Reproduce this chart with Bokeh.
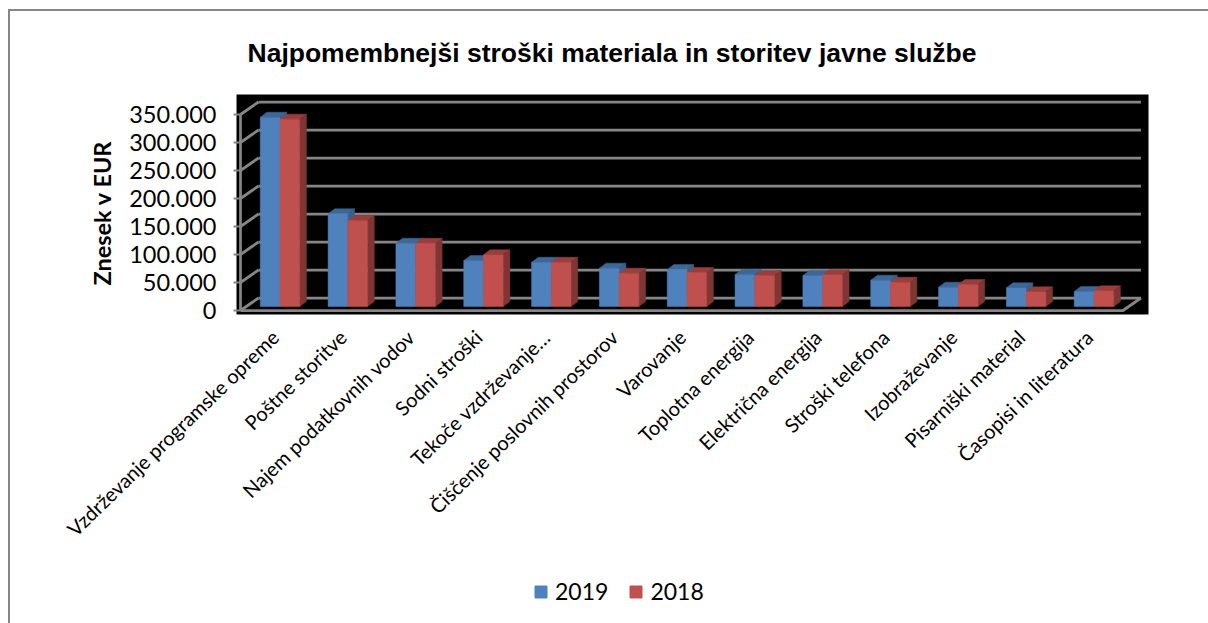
from bokeh.plotting import figure
from bokeh.layouts import column
from bokeh.models import FixedTicker, Legend, LegendItem, Title
from bokeh.embed import file_html
from bokeh.resources import INLINE

title = "Najpomembnejši stroški materiala in storitev javne službe"
y_title = "Znesek v EUR"
categories = ["Vzdrževanje programske opreme", "Poštne storitve", "Najem podatkovnih vodov",
              "Sodni stroški", "Tekoče vzdrževanje…", "Čiščenje poslovnih prostorov", "Varovanje",
              "Toplotna energija", "Električna energija", "Stroški telefona", "Izobraževanje",
              "Pisarniški material", "Časopisi in literatura"]
series_names = ["2019", "2018"]
v2019 = [338000, 165500, 113000, 82000, 79000, 68400, 66000, 57100, 55400, 47000, 34500, 33300, 26800]
v2018 = [334500, 153500, 113000, 92300, 79000, 59500, 60700, 55400, 56600, 43400, 39300, 26200, 28000]
y_ticks = [0, 50000, 100000, 150000, 200000, 250000, 300000, 350000]
y_tick_labels = ["0", "50.000", "100.000", "150.000", "200.000", "250.000", "300.000", "350.000"]

# page geometry (window pixels)
FRAME_L, FRAME_R, FRAME_T, FRAME_B = 236, 1148, 94, 314
HOST_X, HOST_Y = 8, 9   # outer edge of the chart's border
BORDER = 2
W, H_MAIN, H_LEG = 1198, 564, 48
STEP_PX = 67.83
CENTER0_PX = 279.5
Y0_PX = 310.0
KY = 196 / 350000
def xpx(px): return (px - CENTER0_PX) / STEP_PX
def wx(px): return px / STEP_PX
def wy(px): return px / KY

inner_x = HOST_X + BORDER
inner_y = HOST_Y + BORDER
p = figure(width=W, height=H_MAIN, output_backend="svg", toolbar_location=None,
           x_range=(xpx(FRAME_L), xpx(FRAME_R)),
           y_range=(wy(Y0_PX - FRAME_B), wy(Y0_PX - FRAME_T)),
           frame_width=FRAME_R - FRAME_L, frame_height=FRAME_B - FRAME_T,
           min_border_left=FRAME_L - inner_x, min_border_right=inner_x + W - FRAME_R,
           min_border_top=FRAME_T - inner_y, min_border_bottom=inner_y + H_MAIN - FRAME_B,
           background_fill_color="black", border_fill_color="white", outline_line_color=None)

p.title.text = title
p.title.text_font = "Liberation Sans"
p.title.text_font_size = "26.5px"
p.title.text_font_style = "bold"
p.title.text_color = "#000000"
p.title.align = "left"
p.title.offset = 11
p.title.vertical_align = "top"
p.title.standoff = 50

p.xgrid.visible = False
p.ygrid.visible = False

GRID = "#868686"
GW = 2.75
FLOOR_DX, FLOOR_DY = wx(18), wy(12.5)
AXIS_X = xpx(240)
WALL_END = xpx(1122.5)

p.multi_line([[AXIS_X + FLOOR_DX, WALL_END + FLOOR_DX] for _ in y_ticks],
             [[t + FLOOR_DY, t + FLOOR_DY] for t in y_ticks], line_color=GRID, line_width=GW)
p.multi_line([[AXIS_X, AXIS_X + FLOOR_DX] for _ in y_ticks], [[t, t + FLOOR_DY] for t in y_ticks],
             line_color=GRID, line_width=GW)
p.line([AXIS_X, AXIS_X], [y_ticks[0], y_ticks[-1]], line_color=GRID, line_width=GW)
p.line([AXIS_X, WALL_END, WALL_END + FLOOR_DX], [0, 0, FLOOR_DY], line_color=GRID, line_width=GW)

BAR_W = wx(19.75)
BAR_DX, BAR_DY = wx(6.7), wy(5)
BASE = wy(4)
BLUE, RED = "#4f81bd", "#c0504d"

def draw(values, before_center, face, top_c, side_c):
    lefts = [i - BAR_W if before_center else i for i in range(len(values))]
    rights = [l + BAR_W for l in lefts]
    tops = [v + BASE for v in values]
    p.patches([[l, r, r + BAR_DX, l + BAR_DX] for l, r in zip(lefts, rights)],
              [[t, t, t + BAR_DY, t + BAR_DY] for t in tops],
              fill_color=top_c, line_color=top_c, line_width=0.5)
    p.patches([[r, r + BAR_DX, r + BAR_DX, r] for r in rights],
              [[BASE, BASE + BAR_DY, t + BAR_DY, t] for t in tops],
              fill_color=side_c, line_color=side_c, line_width=0.5)
    p.quad(left=lefts, right=rights, bottom=BASE, top=tops, fill_color=face, line_color=face, line_width=0.5)

draw(v2019, True, BLUE, "#3d6797", "#3b618f")
draw(v2018, False, RED, "#983f3d", "#7f3533")

yax = p.yaxis[0]
yax.ticker = FixedTicker(ticks=y_ticks)
yax.major_label_overrides = dict(zip(y_ticks, y_tick_labels))
yax.major_label_text_font = "Lato"
yax.major_label_text_font_size = "23.5px"
yax.major_label_text_color = "#000000"
yax.major_tick_in = 4
yax.major_tick_out = 3
yax.major_tick_line_color = GRID
yax.major_tick_line_width = 2
yax.minor_tick_line_color = None
yax.axis_line_color = None
yax.major_label_standoff = 17

p.add_layout(Title(text=y_title, align="left", offset=29, standoff=22, text_font="Lato",
                   text_font_style="bold", text_font_size="23.5px", text_color="#000000"), "left")

LABEL_SHIFT = wx(-5)
x_ticks = [i + LABEL_SHIFT for i in range(len(categories))]
xax = p.xaxis[0]
xax.ticker = FixedTicker(ticks=x_ticks)
xax.major_label_overrides = dict(zip(x_ticks, categories))
xax.major_label_orientation = 0.77
xax.major_label_text_font = "Lato"
xax.major_label_text_font_size = "20px"
xax.major_label_text_color = "#000000"
xax.major_tick_line_color = None
xax.minor_tick_line_color = None
xax.axis_line_color = None
xax.major_label_standoff = 13

# legend strip: a second figure; its frame lines up with the main chart's frame
q = figure(width=W, height=H_LEG, output_backend="svg", toolbar_location=None, x_range=(0, 1), y_range=(0, 1),
           min_border_left=0, min_border_right=0, min_border_top=0, min_border_bottom=0,
           outline_line_color=None, background_fill_color="white", border_fill_color="white")
q.axis.visible = False
q.xgrid.visible = False
q.ygrid.visible = False
# the key swatches only: these boxes lie outside the strip's ranges
k19 = q.quad(left=[2], right=[3], bottom=[2], top=[3], fill_color=BLUE, line_color=BLUE)
k18 = q.quad(left=[2], right=[3], bottom=[2], top=[3], fill_color=RED, line_color=RED)
legend = Legend(items=[LegendItem(label=series_names[0], renderers=[k19]),
                       LegendItem(label=series_names[1], renderers=[k18])],
                orientation="horizontal", location=(297, 18), glyph_width=15, glyph_height=15,
                label_text_font="Lato", label_text_font_size="23px", label_text_color="#000000",
                spacing=20, padding=0, margin=0, background_fill_alpha=0, border_line_color=None,
                label_standoff=7)
q.add_layout(legend, "center")

page = column(p, q, spacing=0, styles={
    "margin-left": f"{HOST_X}px", "margin-top": f"{HOST_Y}px",
    "border-style": "solid", "border-color": "#868686", "border-width": f"{BORDER}px 0 0 {BORDER}px",
    "box-sizing": "content-box"})

open("out.html", "w").write(file_html(page, INLINE))
